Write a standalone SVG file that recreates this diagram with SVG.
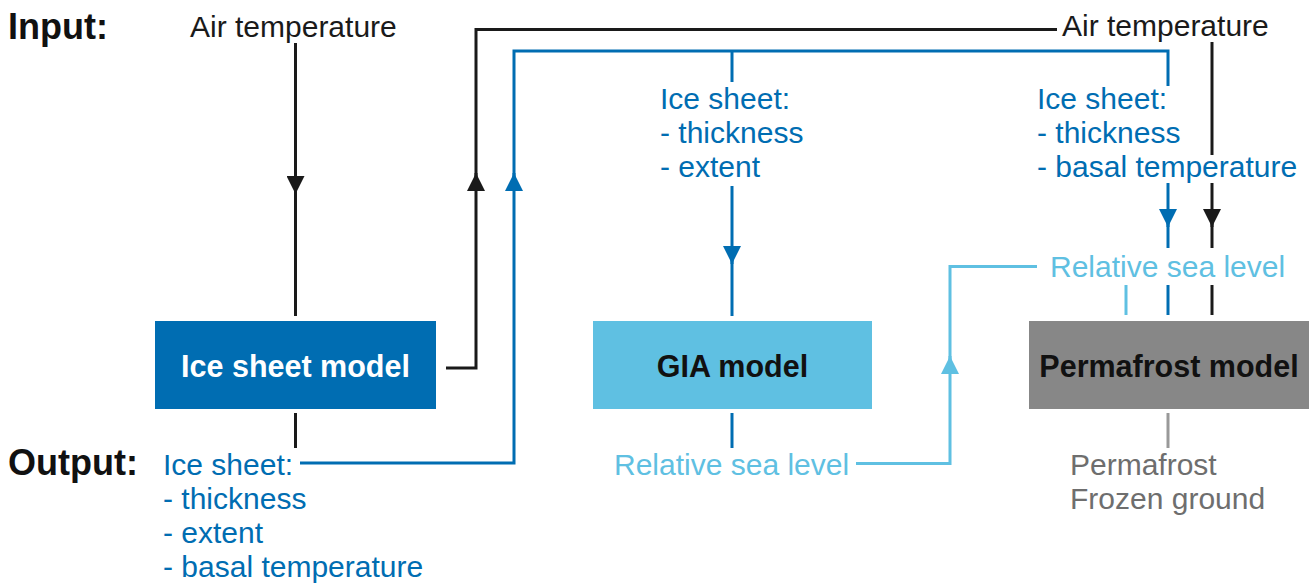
<svg xmlns="http://www.w3.org/2000/svg" width="1314" height="583" viewBox="0 0 1314 583">
<style>
text{font-family:"Liberation Sans",Arial,sans-serif;font-size:30px}
.hd{font-weight:bold;font-size:36px;fill:#111}
.k{fill:#1a1a1a}
.db{fill:#006db2}
.lb{fill:#5fc0e2}
.g{fill:#6e6e6e}
.bt{font-weight:bold;font-size:30.5px}
.ln{fill:none;stroke-width:3}
.sk{stroke:#1a1a1a}
.sd{stroke:#006db2}
.sl{stroke:#5fc0e2}
.sg{stroke:#999}
</style>
<defs>
<marker id="ak" markerUnits="userSpaceOnUse" viewBox="0 0 18 18" refX="18" refY="9" markerWidth="18" markerHeight="18" orient="auto"><path d="M0,0 L18,9 L0,18 z" fill="#1a1a1a"/></marker>
<marker id="ad" markerUnits="userSpaceOnUse" viewBox="0 0 18 18" refX="18" refY="9" markerWidth="18" markerHeight="18" orient="auto"><path d="M0,0 L18,9 L0,18 z" fill="#006db2"/></marker>
<marker id="al" markerUnits="userSpaceOnUse" viewBox="0 0 18 18" refX="18" refY="9" markerWidth="18" markerHeight="18" orient="auto"><path d="M0,0 L18,9 L0,18 z" fill="#5fc0e2"/></marker>
</defs>

<g id="labels">
<text class="hd" x="8" y="39">Input:</text>
<text class="hd" x="8" y="475">Output:</text>
<text class="k" x="190" y="37">Air temperature</text>
<text class="k" x="1062" y="36">Air temperature</text>
<text class="db" x="660" y="109">Ice sheet:</text>
<text class="db" x="660" y="143">- thickness</text>
<text class="db" x="660" y="177">- extent</text>
<text class="db" x="1037" y="109">Ice sheet:</text>
<text class="db" x="1037" y="143">- thickness</text>
<text class="db" x="1037" y="177">- basal temperature</text>
<text class="lb" x="1050" y="277">Relative sea level</text>
<text class="db" x="163" y="475">Ice sheet:</text>
<text class="db" x="163" y="509">- thickness</text>
<text class="db" x="163" y="543">- extent</text>
<text class="db" x="163" y="577">- basal temperature</text>
<text class="lb" x="614" y="475">Relative sea level</text>
<text class="g" x="1070" y="475">Permafrost</text>
<text class="g" x="1070" y="509">Frozen ground</text>
</g>

<g id="ice-sheet-model">
<rect x="155" y="321" width="281" height="88" fill="#006db2"/>
<text class="bt" x="295.5" y="377" text-anchor="middle" fill="#fff">Ice sheet model</text>
</g>
<g id="gia-model">
<rect x="593" y="321" width="279" height="88" fill="#5fc0e2"/>
<text class="bt" x="732.5" y="377" text-anchor="middle" fill="#111">GIA model</text>
</g>
<g id="permafrost-model">
<rect x="1029" y="321" width="280" height="88" fill="#878787"/>
<text class="bt" x="1169" y="377" text-anchor="middle" fill="#111">Permafrost model</text>
</g>

<g id="connectors">
<path class="ln sk" d="M295.5,43 V194" marker-end="url(#ak)"/>
<path class="ln sk" d="M295.5,190 V316"/>
<path class="ln sk" d="M446,368 H476 V173" marker-end="url(#ak)"/>
<path class="ln sk" d="M476,177 V29.5 H1057"/>
<path class="ln sk" d="M1212,42 V155"/>
<path class="ln sk" d="M1212,183 V227" marker-end="url(#ak)"/>
<path class="ln sk" d="M1212,223 V248"/>
<path class="ln sk" d="M1212,285 V315"/>
<path class="ln sk" d="M295.5,413 V448"/>
<path class="ln sd" d="M300,463 H514 V173" marker-end="url(#ad)"/>
<path class="ln sd" d="M514,177 V51 H1168 V86"/>
<path class="ln sd" d="M732,51 V82"/>
<path class="ln sd" d="M732,186 V264" marker-end="url(#ad)"/>
<path class="ln sd" d="M732,260 V316"/>
<path class="ln sd" d="M1168,183 V227" marker-end="url(#ad)"/>
<path class="ln sd" d="M1168,223 V248"/>
<path class="ln sd" d="M1168,285 V315"/>
<path class="ln sd" d="M732,413 V448"/>
<path class="ln sl" d="M856,463.5 H950 V356" marker-end="url(#al)"/>
<path class="ln sl" d="M950,360 V266.5 H1037"/>
<path class="ln sl" d="M1126,285 V315"/>
<path class="ln sg" d="M1168,413 V448"/>
</g>
</svg>
